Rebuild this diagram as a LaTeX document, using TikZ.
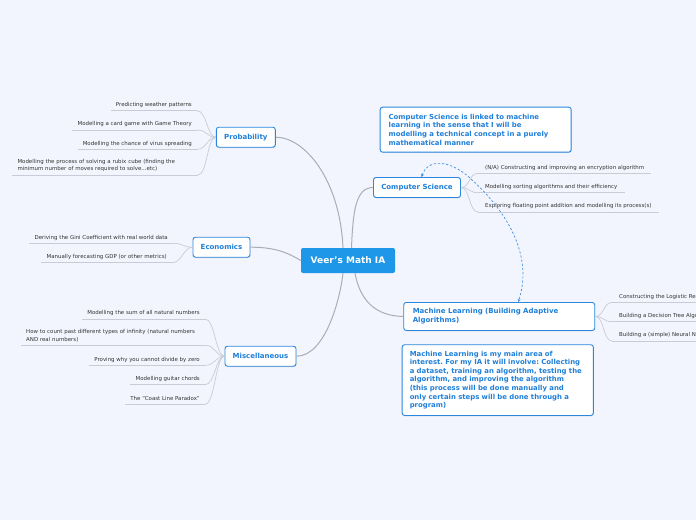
\documentclass[tikz,border=0pt]{standalone}
\usepackage{fontspec}
\setmainfont{DejaVu Sans}
\usetikzlibrary{arrows.meta,shadows}
\definecolor{bgc}{HTML}{F2F5FD}
\definecolor{tblue}{HTML}{2B87DE}
\definecolor{ttext}{HTML}{1F7FD9}
\definecolor{cfill}{HTML}{1E97E8}
\definecolor{stext}{HTML}{333333}
\definecolor{sline}{HTML}{C9CCD4}
\definecolor{mline}{HTML}{ABADB5}
\definecolor{dblue}{HTML}{4190E2}
\frenchspacing
\begin{document}
\begin{tikzpicture}[x=1pt,y=-1pt,
  topic/.style={draw=tblue, line width=0.9pt, fill=white, rounded corners=2.5pt,
    text=ttext, font=\bfseries\fontsize{7}{9}\selectfont, inner sep=0pt,
    drop shadow={shadow xshift=0.4pt, shadow yshift=-0.8pt, opacity=0.25}},
  note/.style={topic, align=left, inner xsep=8.5pt, inner ysep=0pt, anchor=north west,
    font=\bfseries\fontsize{6.9}{8.55}\selectfont},
  central/.style={fill=cfill, rounded corners=2pt, text=white, inner sep=0pt,
    font=\bfseries\fontsize{9}{11}\selectfont, minimum width=94pt, minimum height=25pt},
  subbase/.style={font=\fontsize{5.45}{7.6}\selectfont, text=stext, inner xsep=5pt, inner ysep=2.8pt},
  subL/.style={subbase, text depth=1.2pt, anchor=south east},
  subR/.style={subbase, text depth=1.2pt, anchor=south west, inner xsep=7pt},
  subM/.style={subbase, anchor=south west, align=left},
  uline/.style={draw=sline, line width=0.7pt},
  sbranch/.style={draw=sline, line width=0.7pt},
  mbranch/.style={draw=mline, line width=1pt},
  rel/.style={draw=dblue, line width=0.7pt, dash pattern=on 2.2pt off 2pt,
    {Stealth[length=3.2pt,width=3pt]}-{Stealth[length=3.2pt,width=3pt]}}
]
\fill[bgc] (0,0) rectangle (696,520);
\useasboundingbox (0,0) rectangle (696,520);
\clip (0,0) rectangle (696,520);

% central
\node[central] (c) at (348,260.5) {Veer's Math IA};

% main topics
\node[topic, minimum width=59pt, minimum height=20pt] (prob) at (245.8,137.2) {Probability};
\node[topic, minimum width=57pt, minimum height=20pt] (econ) at (221.5,247.2) {Economics};
\node[topic, minimum width=71pt, minimum height=20pt] (misc) at (260.5,356.2) {Miscellaneous};
\node[topic, minimum width=87pt, minimum height=20pt] (cs) at (417,187.5) {Computer Science};
\node[topic, align=left, anchor=north west, inner xsep=9pt, text width=173pt,
      minimum height=28pt] (ml) at (403.3,302)
      {Machine Learning (Building Adaptive\\Algorithms)};

% notes
\node[note, text width=174pt, minimum height=45pt] (csnote) at (379.7,106.7)
  {Computer Science is linked to machine\\learning in the sense that I will be\\modelling a technical concept in a purely\\mathematical manner};
\node[note, inner xsep=7.6pt, text width=176pt, minimum height=70.7pt] (mlnote) at (401.7,344.3)
  {Machine Learning is my main area of\\interest. For my IA it will involve: Collecting\\a dataset, training an algorithm, testing the\\algorithm, and improving the algorithm\\(this process will be done manually and\\only certain steps will be done through a\\program)};

% main branches
\draw[mbranch] ([xshift=-5pt]c.north) .. controls (340,180) and (305,137.2) .. (prob.east);
\draw[mbranch] ([xshift=3.5pt]c.north) .. controls (353,210) and (356,187.5) .. (cs.west);
\draw[mbranch] (c.west) .. controls (285,251) and (272,247.2) .. (econ.east);
\draw[mbranch] ([xshift=-5pt]c.south) .. controls (340,300) and (325,356.2) .. (misc.east);
\draw[mbranch] ([xshift=7pt]c.south) .. controls (360,300) and (375,316) .. (ml.west);

% Probability subtopics
\node[subL] (p1) at (197,110.7) {Predicting weather patterns};
\node[subL] (p2) at (197,130) {Modelling a card game with Game Theory};
\node[subL] (p3) at (197,149.3) {Modelling the chance of virus spreading};
\node[subM, text width=175pt] (p4) at (12.3,175)
  {Modelling the process of solving a rubix cube (finding the\\minimum number of moves required to solve...etc)};
\foreach \n in {p1,p2,p3,p4}{
  \draw[uline] (\n.south west) -- (\n.south east);
  \draw[sbranch] (\n.south east) .. controls +(10,0) and +(-9,0) .. (prob.west);
}

% Economics subtopics
\node[subL] (e1) at (173,243.3) {Deriving the Gini Coefficient with real world data};
\node[subL] (e2) at (172,262.7) {Manually forecasting GDP (or other metrics)};
\foreach \n in {e1,e2}{
  \draw[uline] (\n.south west) -- (\n.south east);
  \draw[sbranch] (\n.south east) .. controls +(10,0) and +(-9,0) .. (econ.west);
}

% Miscellaneous subtopics
\node[subL] (m1) at (205,319) {Modelling the sum of all natural numbers};
\node[subM, text width=174pt] (m2) at (21,345.3)
  {How to count past different types of infinity (natural numbers\\AND real numbers)};
\node[subL] (m3) at (205,365.3) {Proving why you cannot divide by zero};
\node[subL] (m4) at (205,384.7) {Modelling guitar chords};
\node[subL] (m5) at (205,404.3) {The ``Coast Line Paradox''};
\foreach \n in {m1,m2,m3,m4,m5}{
  \draw[uline] (\n.south west) -- (\n.south east);
  \draw[sbranch] (\n.south east) .. controls +(10,0) and +(-9,0) .. (misc.west);
}

% Computer Science subtopics
\node[subR] (c1) at (478,173.3) {(N/A) Constructing and improving an encryption algorithm};
\node[subR] (c2) at (478,192.7) {Modelling sorting algorithms and their efficiency};
\node[subR] (c3) at (478,212) {Exploring floating point addition and modelling its process(s)};
\foreach \n in {c1,c2,c3}{
  \draw[uline] (\n.south west) -- (\n.south east);
  \draw[sbranch] (cs.east) .. controls +(9,0) and +(-9,0) .. (\n.south west);
}

% Machine Learning subtopics
\node[subR] (l1) at (612,302.5) {Constructing the Logistic Regression Algorithm};
\node[subR] (l2) at (612,321.7) {Building a Decision Tree Algorithm};
\node[subR] (l3) at (612,341) {Building a (simple) Neural Network};
\foreach \n in {l1,l2,l3}{
  \draw[uline] (\n.south west) -- (\n.south east);
  \draw[sbranch] (ml.east) .. controls +(9,0) and +(-9,0) .. (\n.south west);
}

% relationship
\coordinate (r1) at ([xshift=4.5pt]cs.north);
\coordinate (r2) at ([xshift=19pt]ml.north);
\draw[rel] (r1) .. controls (428,158) and (450,160) .. (470,178)
  .. controls (500,205) and (535,250) .. (r2);
\end{tikzpicture}
\end{document}
